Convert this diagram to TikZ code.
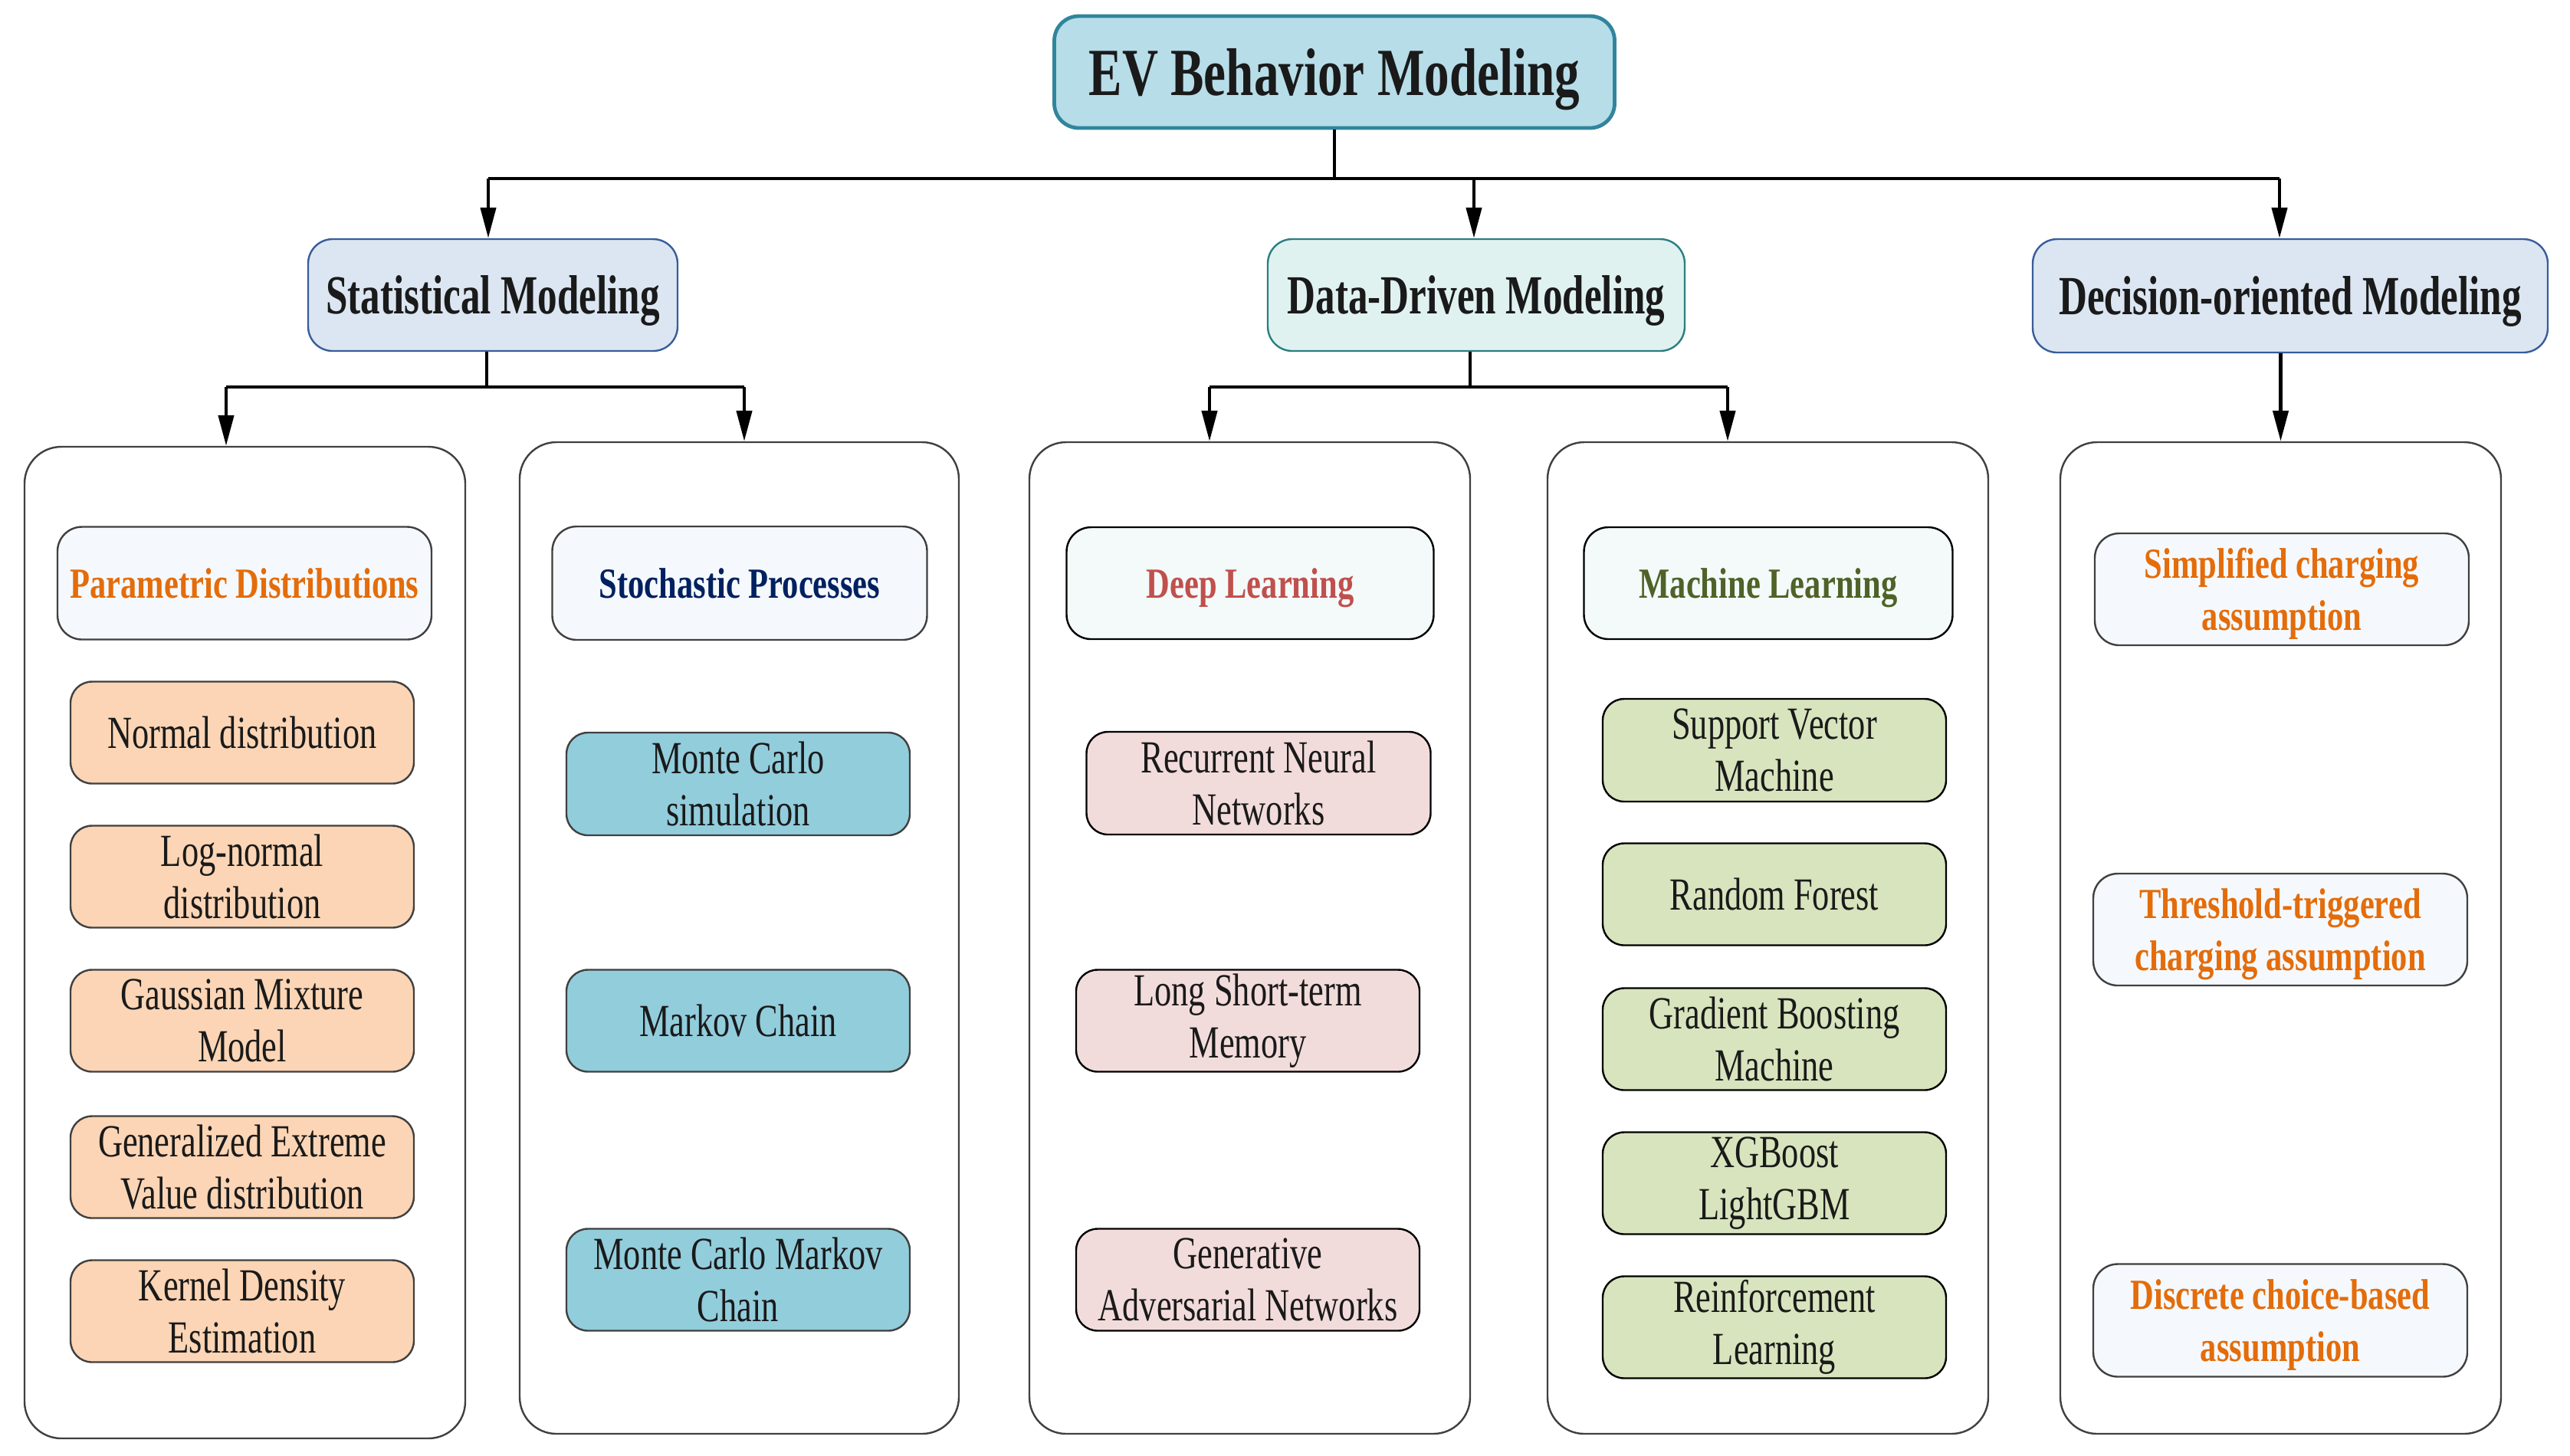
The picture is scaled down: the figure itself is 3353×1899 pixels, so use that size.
\documentclass[tikz,border=0pt]{standalone}
\usepackage{fontspec}
\setmainfont{Liberation Serif}[FakeStretch=0.74,BoldFeatures={FakeStretch=0.71}]
\newfontfamily\hfont{Liberation Serif}[FakeStretch=0.76,BoldFeatures={FakeStretch=0.76}]
\newfontfamily\rfont{Liberation Serif}[FakeStretch=0.74,BoldFeatures={FakeStretch=0.74}]
\usetikzlibrary{arrows.meta}
\definecolor{rootfill}{HTML}{B7DDE8}
\definecolor{rootdraw}{HTML}{31859C}
\definecolor{lonefill}{HTML}{DCE6F2}
\definecolor{lonedraw}{HTML}{385D9A}
\definecolor{ddfill}{HTML}{E0F2F0}
\definecolor{dddraw}{HTML}{2A7F80}
\definecolor{hdfillA}{HTML}{F5F9FD}
\definecolor{hdfillB}{HTML}{F4FAF9}
\definecolor{cPeach}{HTML}{FBD5B5}
\definecolor{cTeal}{HTML}{92CDDC}
\definecolor{cPink}{HTML}{F2DCDB}
\definecolor{cGreen}{HTML}{D7E4BD}
\definecolor{cBorder}{HTML}{404040}
\definecolor{cText}{HTML}{1A1A1A}
\definecolor{tOrange}{HTML}{E46C0A}
\definecolor{tNavy}{HTML}{002060}
\definecolor{tRed}{HTML}{C0504D}
\definecolor{tOlive}{HTML}{4F6228}
\newcommand\fleaf{\fontsize{15}{17}\selectfont}
\newcommand\fhead{\hfont\fontsize{14}{17}\selectfont\bfseries}
\newcommand\flone{\fontsize{18}{22}\selectfont\bfseries}
\newcommand\froot{\rfont\fontsize{22}{26}\selectfont\bfseries}
\begin{document}
\begin{tikzpicture}[x=0.25pt,y=-0.25pt,
  bx/.style 2 args={minimum width=#1*0.25pt,minimum height=#2*0.25pt,inner sep=0pt},
  rootbox/.style={draw=rootdraw,fill=rootfill,line width=1.2pt,rounded corners=8pt,text=cText,font=\froot,text depth=0pt},
  lonebox/.style={draw=lonedraw,fill=lonefill,line width=0.6pt,rounded corners=8pt,text=cText,font=\flone,text depth=0pt},
  cont/.style={draw=cBorder,fill=white,line width=0.6pt,rounded corners=12pt},
  headbox/.style={draw=cBorder,fill=hdfillA,line width=0.6pt,rounded corners=8pt,font=\fhead,align=center,text depth=0pt},
  leafbox/.style={draw=cBorder,line width=0.6pt,rounded corners=7pt,text=cText,font=\fleaf,align=center},
  conn/.style={line width=1.1pt,draw=black},
  arr/.style={line width=1.1pt,draw=black,-{Triangle[length=10pt,width=5pt]}}
]
\useasboundingbox (0,0) rectangle (3353,1899);

% top level
\node[rootbox,bx={731}{146}] (root) at (1741,94) {EV Behavior Modeling};
\node[lonebox,bx={482}{146}] (stat) at (643,385) {Statistical Modeling};
\node[lonebox,draw=dddraw,fill=ddfill,bx={544}{146}] (dd) at (1926,385) {Data-Driven Modeling};
\node[lonebox,bx={672}{148}] (dec) at (2988,386) {Decision-oriented Modeling};

% containers
\node[cont,bx={575}{1294}] (c1) at (319.5,1230) {};
\node[cont,bx={573}{1294}] (c2) at (964.5,1224) {};
\node[cont,bx={575}{1294}] (c3) at (1630.5,1224) {};
\node[cont,bx={575}{1294}] (c4) at (2306.5,1224) {};
\node[cont,bx={575}{1294}] (c5) at (2975.5,1224) {};

% connectors level 0 -> 1
\coordinate (t1) at (637,233);
\coordinate (t2) at (1923,233);
\coordinate (t3) at (2974,233);
\draw[conn] (root.south) -- (root.south |- t1);
\draw[conn] (t1) -- (t3);
\draw[arr] (t1) -- (t1 |- stat.north);
\draw[arr] (t2) -- (t2 |- dd.north);
\draw[arr] (t3) -- (t3 |- dec.north);

% connectors level 1 -> 2
\coordinate (s1) at (295,505);
\coordinate (s2) at (971,505);
\coordinate (sm) at (635,505);
\draw[conn] (sm |- stat.south) -- (sm);
\draw[conn] (s1) -- (s2);
\draw[arr] (s1) -- (s1 |- c1.north);
\draw[arr] (s2) -- (s2 |- c2.north);

\coordinate (d1) at (1578,505);
\coordinate (d2) at (2254,505);
\coordinate (dm) at (1918,505);
\draw[conn] (dm |- dd.south) -- (dm);
\draw[conn] (d1) -- (d2);
\draw[arr] (d1) -- (d1 |- c3.north);
\draw[arr] (d2) -- (d2 |- c4.north);

\draw[arr] (dec.south -| c5.north) -- (c5.north);

% headers
\node[headbox,text=tOrange,bx={488}{147}] (h1) at (319,761) {Parametric Distributions};
\node[headbox,text=tNavy,bx={489}{148}] (h2) at (965,761) {Stochastic Processes};
\node[headbox,draw=black,fill=hdfillB,text=tRed,bx={479}{146}] (h3) at (1631,761) {Deep Learning};
\node[headbox,draw=black,fill=hdfillB,text=tOlive,bx={481}{146}] (h4) at (2307,761) {Machine Learning};
\node[headbox,text=tOrange,bx={488}{146}] (h5a) at (2977,769) {Simplified charging\\assumption};
\node[headbox,text=tOrange,bx={488}{146}] (h5b) at (2975,1213) {Threshold-triggered\\charging assumption};
\node[headbox,text=tOrange,bx={488}{147}] (h5c) at (2975,1723) {Discrete choice-based\\assumption};

% column 1 leaves
\node[leafbox,fill=cPeach,bx={448}{133}] (p1) at (316,956) {Normal distribution};
\node[leafbox,fill=cPeach,bx={448}{133}] (p2) at (316,1144) {Log-normal\\distribution};
\node[leafbox,fill=cPeach,bx={448}{133}] (p3) at (316,1332) {Gaussian Mixture\\Model};
\node[leafbox,fill=cPeach,bx={448}{133}] (p4) at (316,1523) {Generalized Extreme\\Value distribution};
\node[leafbox,fill=cPeach,bx={448}{133}] (p5) at (316,1711) {Kernel Density\\Estimation};

% column 2 leaves
\node[leafbox,fill=cTeal,bx={448}{134}] (q1) at (963,1023) {Monte Carlo\\simulation};
\node[leafbox,fill=cTeal,bx={448}{133}] (q2) at (963,1332) {Markov Chain};
\node[leafbox,fill=cTeal,bx={448}{133}] (q3) at (963,1670) {Monte Carlo Markov\\Chain};

% column 3 leaves
\node[leafbox,draw=black,fill=cPink,bx={449}{134}] (r1) at (1642,1022) {Recurrent Neural\\Networks};
\node[leafbox,draw=black,fill=cPink,bx={448}{133}] (r2) at (1628,1332) {Long Short-term\\Memory};
\node[leafbox,draw=black,fill=cPink,bx={448}{133}] (r3) at (1628,1670) {Generative\\Adversarial Networks};

% column 4 leaves
\node[leafbox,draw=black,fill=cGreen,bx={448}{134}] (m1) at (2315,979) {Support Vector\\Machine};
\node[leafbox,draw=black,fill=cGreen,bx={448}{133}] (m2) at (2315,1167) {Random Forest};
\node[leafbox,draw=black,fill=cGreen,bx={448}{133}] (m3) at (2315,1356) {Gradient Boosting\\Machine};
\node[leafbox,draw=black,fill=cGreen,bx={448}{133}] (m4) at (2315,1544) {XGBoost\\LightGBM};
\node[leafbox,draw=black,fill=cGreen,bx={448}{133}] (m5) at (2315,1732) {Reinforcement\\Learning};
\end{tikzpicture}
\end{document}
